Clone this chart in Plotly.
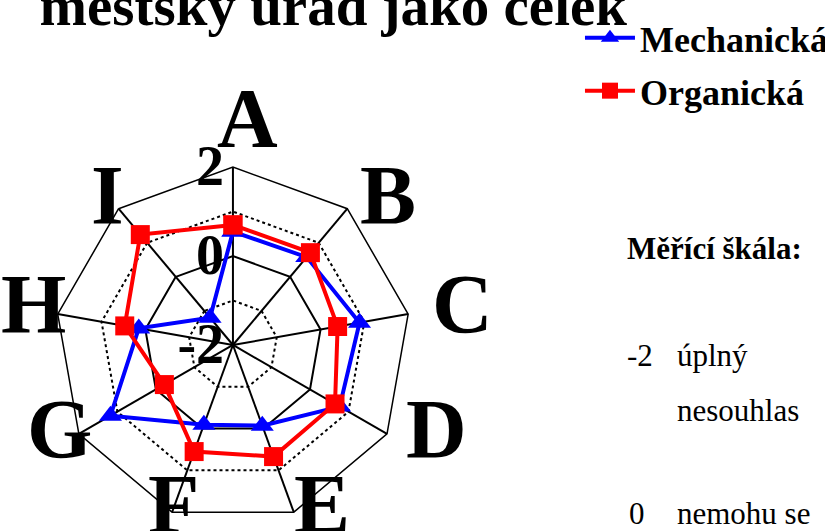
import math
import plotly.graph_objects as go

categories = ["A", "B", "C", "D", "E", "F", "G", "H", "I"]
mechanicka = [0.55, 0.58, 0.89, 0.77, -0.07, -0.09, 1.18, 0.15, -1.20]
organicka = [0.70, 0.71, 0.39, 0.65, 0.67, 0.55, -0.22, 0.47, 1.24]
radial_ticks = [-2, 0, 2]
minor_ticks = [-1, 1]

SERIF = "Liberation Serif, Times New Roman, serif"
W, H = 825, 531

# Plotly polar cannot handle a negative radial minimum well, so the radial
# axis is offset by the scale minimum; tick labels show the original values.
R_MIN = radial_ticks[0]
R_MAX = radial_ticks[-1]


def rad(values):
    return [v - R_MIN for v in values]


cats_closed = categories + [categories[0]]

fig = go.Figure()

# helper trace for the dotted minor-grid subplot
fig.add_trace(go.Scatterpolar(r=[0], theta=[categories[0]], mode="markers",
                              marker=dict(opacity=0), showlegend=False, hoverinfo="skip",
                              subplot="polar"))

fig.add_trace(go.Scatterpolar(
    r=rad(mechanicka + [mechanicka[0]]), theta=cats_closed, name="Mechanická",
    mode="lines+markers", line=dict(color="#0000FF", width=4),
    marker=dict(symbol="triangle-up", size=20, color="#0000FF"),
    legendgroup="m", subplot="polar2"))
fig.add_trace(go.Scatterpolar(
    r=rad(organicka + [organicka[0]]), theta=cats_closed, name="Organická",
    mode="lines+markers", line=dict(color="#FF0000", width=4),
    marker=dict(symbol="square", size=19, color="#FF0000"),
    legendgroup="o", subplot="polar2"))

dom_x = [0.0667, 0.498]
dom_y = [0.0151, 0.6855]

fig.update_layout(
    width=W, height=H,
    margin=dict(l=0, r=0, t=0, b=0, autoexpand=False),
    paper_bgcolor="white",
    font=dict(family=SERIF, color="black"),
    title=dict(text="městský úřad jako celek", x=0.404, xanchor="center",
               y=0.9525, yanchor="bottom", yref="container",
               font=dict(family=SERIF, size=57, weight="bold", color="black")),
    polar=dict(
        domain=dict(x=dom_x, y=dom_y),
        bgcolor="white",
        gridshape="linear",
        radialaxis=dict(range=[0, R_MAX - R_MIN], tickvals=rad(minor_ticks),
                        showticklabels=False, showline=False, ticks="",
                        gridcolor="black", gridwidth=2, griddash="dot", angle=90),
        angularaxis=dict(categoryorder="array", categoryarray=categories,
                         rotation=90, direction="clockwise", showgrid=False,
                         showline=False, showticklabels=False, ticks=""),
    ),
    polar2=dict(
        domain=dict(x=dom_x, y=dom_y),
        bgcolor="rgba(0,0,0,0)",
        gridshape="linear",
        radialaxis=dict(range=[0, R_MAX - R_MIN], tickvals=rad(radial_ticks),
                        ticktext=[str(v) for v in radial_ticks],
                        showline=False, ticks="", gridcolor="black", gridwidth=1.5,
                        angle=90, tickangle=90, side="counterclockwise",
                        tickfont=dict(family=SERIF, size=56, weight="bold", color="black")),
        angularaxis=dict(categoryorder="array", categoryarray=categories,
                         rotation=90, direction="clockwise", gridcolor="black",
                         gridwidth=1.5, linecolor="black", linewidth=1.5, ticks="",
                         showticklabels=False),
    ),
    legend=dict(x=0.703, xanchor="left", y=0.985, yanchor="top",
                bgcolor="rgba(0,0,0,0)",
                font=dict(family=SERIF, size=36, weight="bold", color="black"),
                itemwidth=50, tracegroupgap=3),
    showlegend=True,
)

# Category labels placed around the polygon (derived from the polar domain).
cx = (dom_x[0] + dom_x[1]) / 2 * W
cy = H - (dom_y[0] + dom_y[1]) / 2 * H
radius = min((dom_x[1] - dom_x[0]) * W, (dom_y[1] - dom_y[0]) * H) / 2
label_rx = 1.225 * radius   # horizontal reach of the label ring
label_ry = 1.04 * radius    # vertical reach of the label ring
label_shift = (15, -8)
label_bottom = 504          # keep labels inside the chart area
for i, cat in enumerate(categories):
    ang = math.radians(i * 360 / len(categories))
    if math.cos(ang) > 0.9:
        px, py, yanchor = cx + label_shift[0], cy - radius, "bottom"
    else:
        px = cx + label_rx * math.sin(ang) + label_shift[0]
        py = min(cy - label_ry * math.cos(ang) + label_shift[1], label_bottom)
        yanchor = "middle"
    fig.add_annotation(text=cat, x=px / W, y=1 - py / H, xref="paper", yref="paper",
                       xanchor="center", yanchor=yanchor, showarrow=False,
                       font=dict(family=SERIF, size=84, weight="bold", color="black"))

ann_font = dict(family=SERIF, size=31, color="black")
annotations = [
    dict(text="<b>Měřící škála:</b>", x=625, y=248),
    dict(text="-2", x=625, y=355),
    dict(text="úplný", x=675, y=355),
    dict(text="nesouhlas", x=675, y=410),
    dict(text="0", x=627, y=513),
    dict(text="nemohu se", x=675, y=513),
]
for a in annotations:
    fig.add_annotation(text=a["text"], x=a["x"] / W, y=1 - a["y"] / H,
                       xref="paper", yref="paper", xanchor="left", yanchor="middle",
                       showarrow=False, font=ann_font)

fig.write_html("out.html", config={"displayModeBar": False},
               post_script="document.body.style.margin='0';")
